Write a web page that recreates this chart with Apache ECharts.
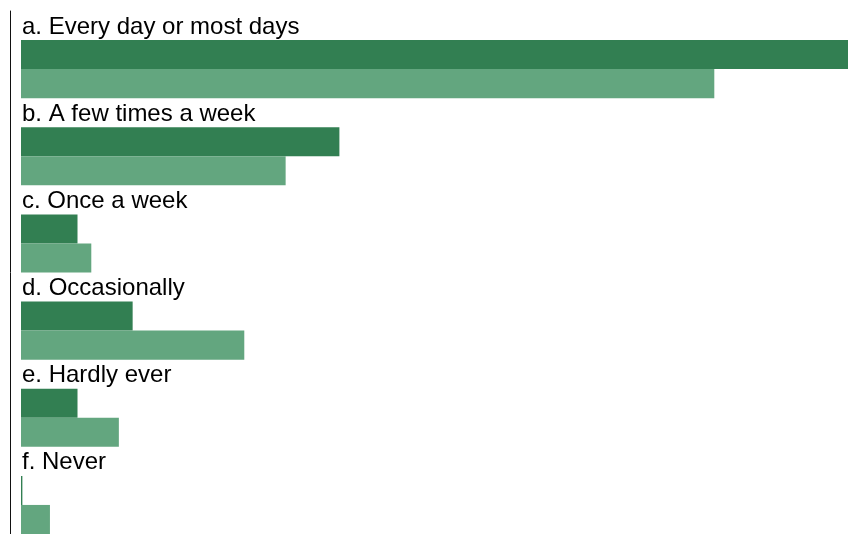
<!DOCTYPE html>
<html>
<head>
<meta charset="utf-8">
<script src="https://cdn.jsdelivr.net/npm/echarts@6/dist/echarts.min.js"></script>
<style>html,body{margin:0;padding:0;background:#fff}#c{width:848px;height:534px}</style>
</head>
<body>
<div id="c"></div>
<script>
var categories = ["a. Every day or most days", "b. A few times a week", "c. Once a week", "d. Occasionally", "e. Hardly ever", "f. Never"];
var seriesA = [60, 23.1, 4.1, 8.1, 4.1, 0.1];
var seriesB = [50.3, 19.2, 5.1, 16.2, 7.1, 2.1];
var ghost = [0, 0, 0, 0, 0, 0];

var chart = echarts.init(document.getElementById('c'), null, {renderer: 'canvas'});
chart.setOption({
  animation: false,
  grid: {left: 21, right: 0, top: 11, bottom: -5, containLabel: false},
  xAxis: {type: 'value', min: 0, max: 60, show: false},
  yAxis: {
    type: 'category', data: categories, inverse: true, offset: 10.5,
    axisLine: {show: true, onZero: false, lineStyle: {color: '#111', width: 1}},
    axisTick: {show: false},
    splitLine: {show: false},
    axisLabel: {show: false}
  },
  series: [
    {type: 'bar', data: ghost, barGap: '0%', barCategoryGap: '0%', itemStyle: {color: 'rgba(0,0,0,0)'}, silent: true,
     label: {show: true, position: [1, 16], align: 'left', verticalAlign: 'middle',
             color: '#000', fontSize: 24, fontFamily: 'Liberation Sans, Arial, sans-serif',
             formatter: function (p) { return p.name; }}},
    {type: 'bar', data: seriesA, barGap: '0%', barCategoryGap: '0%', itemStyle: {color: '#327f52'}},
    {type: 'bar', data: seriesB, barGap: '0%', barCategoryGap: '0%', itemStyle: {color: '#63a67f'}}
  ]
});
</script>
</body>
</html>
